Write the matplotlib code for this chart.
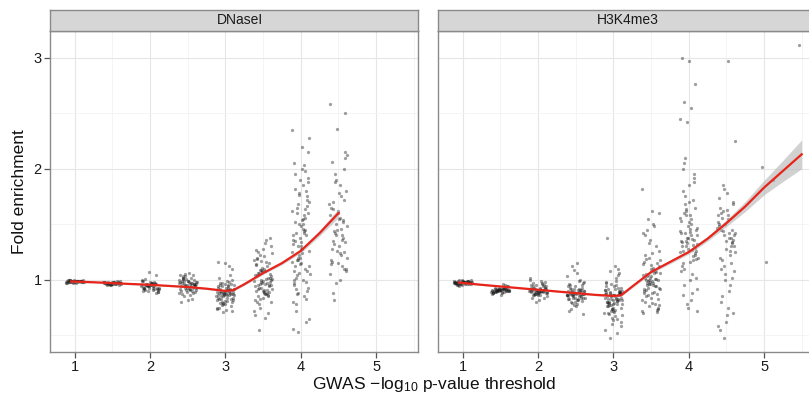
import numpy as np
import matplotlib
matplotlib.use("Agg")
import matplotlib.pyplot as plt

plt.rcParams['font.family'] = ['Liberation Sans', 'DejaVu Sans']
plt.rcParams['mathtext.fontset'] = 'custom'
plt.rcParams['mathtext.rm'] = 'Liberation Sans'
plt.rcParams['mathtext.it'] = 'Liberation Sans:italic'

thresholds = [1, 1.5, 2, 2.5, 3, 3.5, 4, 4.5, 5, 5.5]

# fold enrichment values per threshold, DNaseI
dnase = {
    1: [0.99,0.98,0.99,1.00,0.98,0.99,0.97,0.99,0.98,1.00,0.99,0.98,0.99,0.98,0.97,0.99,1.00,0.98,0.99,0.98,
        0.99,0.99,0.98,0.97,1.00,0.99,0.98,0.99,0.98,0.99,0.99,0.98,1.00,0.99,0.97,0.98,0.99,0.98,0.99,1.00],
    1.5: [0.97,0.96,0.98,0.97,0.95,0.97,0.98,0.96,0.97,0.99,0.96,0.97,0.98,0.95,0.97,0.96,0.98,0.97,0.96,0.97,
          0.99,0.96,0.97,0.98,0.95,0.97,0.96,0.98,0.97,0.96,0.97,0.98,0.96,0.97,0.95,0.98,0.97,0.96,0.97,0.98],
    2: [0.95,0.93,0.97,0.91,0.96,0.94,0.99,0.92,0.95,0.89,0.97,0.93,0.96,0.94,1.00,0.91,0.95,0.93,0.98,0.90,
        0.94,0.96,0.92,0.97,0.95,0.88,0.93,0.99,0.94,0.96,0.91,0.95,0.93,0.97,0.90,0.94,0.96,1.01,0.92,0.95,
        0.93,0.98,0.94,0.89,0.96,0.92,1.04,1.07,0.95,0.93],
    2.5: [0.95,0.98,0.92,1.02,0.96,0.89,1.04,0.94,0.99,0.91,1.06,0.97,0.93,1.01,0.88,0.96,1.03,0.94,0.99,0.90,
          0.97,1.05,0.93,0.98,0.87,1.00,0.95,0.92,1.02,0.96,0.89,0.99,0.94,1.04,0.91,0.97,0.86,1.01,0.95,0.93,
          0.98,0.90,1.03,0.96,0.92,0.99,0.88,0.94,1.00,0.97,0.85,0.95,0.82,0.80,0.83,0.93,0.98,0.91,1.02,0.96],
    3: [0.88,0.92,0.84,0.95,0.80,0.90,0.86,0.98,0.77,0.89,0.93,0.83,0.96,0.87,0.74,0.91,0.85,1.00,0.81,0.94,
        0.88,0.79,0.92,0.86,0.97,0.83,0.90,0.75,0.89,0.94,0.82,0.87,1.02,0.91,0.78,0.85,0.93,0.88,0.72,0.96,
        0.84,0.90,0.80,0.87,0.99,0.92,0.76,0.86,0.89,0.94,0.83,0.91,0.73,0.88,1.04,0.85,0.95,0.81,0.90,0.87,
        0.78,0.93,0.86,0.97,0.84,0.89,0.75,0.92,0.88,0.82,0.95,0.90,1.10,1.15,1.16,1.12,0.71,0.86,0.91,0.79],
    3.5: [1.00,0.92,1.08,0.85,1.15,0.97,1.04,0.88,1.22,0.95,1.10,0.80,1.02,0.93,1.18,0.87,1.06,0.98,1.28,0.90,
          1.12,0.83,1.01,0.96,1.25,0.89,1.07,0.94,1.16,0.78,1.03,0.91,1.20,0.86,1.09,0.99,1.33,0.92,1.05,0.84,
          1.13,0.97,0.75,1.00,0.88,1.19,0.95,1.08,0.82,1.36,0.93,1.02,0.90,1.14,0.70,0.98,1.24,0.87,1.06,0.94,
          1.11,0.68,1.01,0.96,1.30,0.89,1.04,0.85,1.17,0.72,0.66,0.55,1.38,0.99,1.27,0.91,1.09,0.80,1.21,0.95],
    4: [1.30,1.05,1.55,0.92,1.75,1.20,1.40,0.85,1.65,1.12,2.00,1.35,0.98,1.50,1.25,1.85,1.02,1.60,1.15,2.05,
        1.45,0.88,1.70,1.28,1.95,1.08,1.38,0.80,1.58,1.18,2.15,1.48,0.95,1.80,1.22,1.62,1.00,1.42,0.90,1.90,
        1.32,1.10,1.68,1.26,2.20,1.52,0.83,1.78,1.16,1.44,1.04,1.88,1.34,0.97,1.56,1.20,2.28,1.46,0.78,1.72,
        1.14,1.36,2.03,1.60,0.93,1.24,1.82,1.40,1.06,2.35,1.50,0.72,1.66,1.30,1.00,1.98,1.18,0.65,1.54,1.12,
        0.62,1.76,0.56,1.42,0.87,1.92,1.28,1.08,1.64,0.53],
    4.5: [1.50,1.20,1.85,1.35,2.10,1.15,1.65,1.40,1.95,1.10,1.55,1.28,2.00,1.45,1.05,1.75,1.32,2.15,1.60,1.18,
          1.38,1.90,1.48,1.00,1.70,1.25,2.36,1.58,1.12,1.42,1.80,1.30,2.06,1.52,0.97,1.68,1.22,1.44,2.50,1.62,
          1.14,1.36,1.88,1.08,1.56,0.88,1.72,1.26,2.58,1.46,0.82,1.34,1.78,1.16,1.54,1.40,2.12,1.24,1.64,1.10],
}

# fold enrichment values per threshold, H3K4me3
h3k4 = {
    1: [0.97,0.98,0.96,0.99,0.97,0.95,0.98,0.97,1.00,0.96,0.98,0.97,0.99,0.96,0.97,0.98,0.95,0.97,0.99,0.98,
        0.96,0.97,1.00,0.98,0.97,0.96,0.99,0.97,0.98,0.94,0.97,0.98,0.96,0.99,0.97,0.98,0.97,0.96,0.98,1.00,
        0.97,0.99,0.96,0.98,0.97,0.95,0.98,0.97,0.99,0.97],
    1.5: [0.91,0.90,0.92,0.89,0.93,0.91,0.88,0.92,0.90,0.94,0.91,0.89,0.92,0.90,0.87,0.93,0.91,0.90,0.92,0.89,
          0.95,0.91,0.90,0.88,0.92,0.91,0.93,0.90,0.89,0.92,0.91,0.86,0.90,0.93,0.91,0.89,0.92,0.90,0.94,0.91,
          0.88,0.92,0.90,0.91,0.89,0.93,0.90,0.92,0.91,0.96],
    2: [0.90,0.88,0.93,0.86,0.95,0.91,0.89,0.97,0.87,0.92,0.90,0.84,0.94,0.89,0.91,0.99,0.86,0.93,0.88,0.90,
        0.96,0.92,0.85,0.89,0.94,0.91,0.87,1.00,0.90,0.93,0.88,0.82,0.92,0.89,0.95,0.90,0.86,0.91,0.98,0.88,
        0.93,0.90,0.87,0.94,0.89,0.92,0.84,0.91,1.02,0.90,0.88,0.93,0.86,0.95,0.91,0.80,0.89,0.92,0.97,0.90],
    2.5: [0.87,0.84,0.91,0.80,0.95,0.88,0.83,0.99,0.86,0.90,0.78,0.93,0.85,0.89,1.03,0.82,0.92,0.87,0.76,0.96,
          0.86,0.84,0.90,1.06,0.88,0.81,0.94,0.85,0.89,0.79,0.97,0.87,0.83,0.91,1.09,0.86,0.88,0.74,0.93,0.84,
          0.90,1.00,0.85,0.87,0.82,0.95,0.89,0.77,0.86,0.92,1.12,0.84,0.88,0.72,0.91,0.86,0.98,0.83,0.89,0.87,
          0.80,0.94,0.85,0.90,0.69,1.15,0.87,0.84,0.92,0.86],
    3: [0.85,0.78,0.92,0.70,0.88,0.82,0.98,0.65,0.86,0.75,0.94,0.80,0.89,0.60,0.84,1.02,0.77,0.90,0.72,0.87,
        0.83,0.96,0.68,0.85,0.79,1.06,0.74,0.91,0.81,0.88,0.58,0.86,0.76,0.93,0.83,0.70,0.99,0.80,0.87,0.64,
        0.89,0.78,1.08,0.84,0.73,0.92,0.82,0.86,0.55,0.95,0.79,0.88,0.71,0.85,1.04,0.77,0.90,0.67,0.83,0.87,
        0.75,0.97,0.81,0.89,0.62,0.86,0.80,1.10,0.74,0.91,0.84,0.69,0.88,0.78,0.94,0.52,0.85,0.82,1.12,0.76,
        0.90,0.66,0.87,0.83,0.48,0.93,0.79,1.38,0.86,0.72],
    3.5: [1.00,0.92,1.08,0.85,1.15,0.96,1.04,0.78,0.99,1.12,0.88,1.02,0.94,1.20,0.82,1.06,0.97,0.75,1.10,0.90,
          1.01,0.86,1.18,0.95,1.05,0.73,0.98,1.14,0.89,1.03,0.93,1.24,0.80,1.07,0.96,0.72,1.11,0.91,1.00,0.84,
          1.16,0.94,1.04,0.77,0.99,1.22,0.87,1.02,0.70,1.09,0.95,0.83,1.13,0.92,1.01,0.76,1.06,0.97,1.19,0.71,
          1.36,1.42,1.48,1.55,1.60,1.62,1.40,1.30,1.33,1.82,1.50,1.45,0.74,1.03,0.88,1.08,0.93,1.26,0.79,1.00],
    4: [1.35,1.20,1.50,1.10,1.65,1.28,1.42,1.05,1.75,1.32,1.58,1.15,1.88,1.38,1.25,1.55,0.95,1.45,1.70,1.30,
        1.18,1.62,1.40,1.00,1.80,1.22,1.48,1.35,0.88,1.68,1.26,1.52,1.12,1.95,1.33,1.44,0.82,1.60,1.24,1.38,
        1.08,1.72,1.30,1.47,1.16,2.00,1.36,0.78,1.56,1.27,1.42,1.02,1.85,1.34,1.21,1.64,0.92,1.40,2.05,1.29,
        0.75,1.53,1.37,2.10,1.19,1.46,0.86,1.92,2.42,2.45,2.55,2.60,2.76,2.97,3.00,1.31,1.58,0.72,1.43,1.26],
    4.5: [1.40,1.25,1.55,1.10,1.70,1.35,1.48,0.95,1.62,1.30,1.78,1.20,1.45,1.05,1.58,1.38,0.85,1.68,1.28,1.50,
          1.15,1.82,1.42,0.75,1.60,1.33,1.00,1.52,1.22,1.85,1.40,0.68,1.65,1.30,1.12,1.47,0.90,1.56,1.36,0.62,
          1.74,1.26,1.44,1.08,1.58,0.80,1.34,1.50,0.58,1.42,1.18,0.70,1.63,0.55,1.38,0.48,2.25,2.97,1.45,1.02],
    5: [2.02, 1.90, 1.16],
    5.5: [3.11],
}

# loess fit (y and half-width of the band)
dnase_fit_x = [0.95, 1.25, 1.5, 1.75, 2, 2.25, 2.5, 2.75, 3, 3.1, 3.25, 3.5, 3.75, 4, 4.25, 4.5]
dnase_fit_y = [0.985, 0.978, 0.97, 0.962, 0.955, 0.945, 0.935, 0.92, 0.90, 0.905, 0.96, 1.06, 1.15, 1.26, 1.42, 1.60]
dnase_fit_se = [0.01, 0.006, 0.006, 0.006, 0.006, 0.006, 0.007, 0.008, 0.01, 0.01, 0.011, 0.012, 0.014, 0.018, 0.025, 0.04]

h3k4_fit_x = [0.95, 1.25, 1.5, 1.75, 2, 2.25, 2.5, 2.75, 3, 3.1, 3.25, 3.5, 3.75, 4, 4.25, 4.5, 4.75, 5, 5.25, 5.5]
h3k4_fit_y = [0.975, 0.955, 0.94, 0.925, 0.91, 0.895, 0.88, 0.865, 0.855, 0.86, 0.94, 1.07, 1.16, 1.25, 1.37,
              1.51, 1.66, 1.83, 1.98, 2.13]
h3k4_fit_se = [0.01, 0.006, 0.006, 0.006, 0.006, 0.006, 0.007, 0.008, 0.012, 0.012, 0.013, 0.014, 0.016, 0.018,
               0.022, 0.03, 0.045, 0.065, 0.095, 0.13]

W, H = 809, 401
fig = plt.figure(figsize=(W / 100, H / 100), dpi=100)

px_per_unit = 75.3
x0 = 0.67
# name, data, fit x, fit y, band, panel left px, panel width px, strip label centre px
panels = [
    ("DNaseI", dnase, dnase_fit_x, dnase_fit_y, dnase_fit_se, 50, 368, 240),
    ("H3K4me3", h3k4, h3k4_fit_x, h3k4_fit_y, h3k4_fit_se, 438, 380, 628),
]
top, bottom = 31, 352
strip_top = 10

for k, (name, groups, fx, fy, fse, left, width, label_c) in enumerate(panels):
    ax = fig.add_axes([left / W, (H - bottom) / H, width / W, (bottom - top) / H])
    ax.set_xlim(x0, x0 + width / px_per_unit)
    ax.set_ylim(0.35, 3.24)
    ax.set_xticks([1, 2, 3, 4, 5])
    ax.set_xticks([1.5, 2.5, 3.5, 4.5, 5.5], minor=True)
    ax.set_yticks([1, 2, 3])
    ax.set_yticks([0.5, 1.5, 2.5], minor=True)
    ax.grid(True, which='major', color='#e6e6e6', lw=0.8)
    ax.grid(True, which='minor', color='#f3f3f3', lw=0.6)
    ax.set_axisbelow(True)
    for s in ax.spines.values():
        s.set_color('#8a8a8a')
        s.set_linewidth(1.0)
    ax.tick_params(which='minor', length=0)
    ax.tick_params(which='major', length=4, color='#555555', width=0.9,
                   labelsize=10.5, labelcolor='#1a1a1a', pad=2)
    if k == 1:
        ax.tick_params(axis='y', left=False, labelleft=False)

    # jittered points (deterministic spread across the jitter width)
    for t in thresholds:
        if t not in groups:
            continue
        vals = np.array(groups[t])
        n = len(vals)
        off = ((np.arange(n) * 0.6180339887 + 0.37) % 1.0 - 0.5) * 0.24
        ax.scatter(t + off, vals, s=5.5, color='#1a1a1a', alpha=0.42, linewidths=0, zorder=2)

    fx = np.array(fx); fy = np.array(fy); fse = np.array(fse)
    ax.fill_between(fx, fy - fse, fy + fse, color='#b3b3b3', alpha=0.6, lw=0, zorder=3)
    ax.plot(fx, fy, color='#e8231a', lw=1.6, zorder=4)

    sax = fig.add_axes([left / W, (H - top) / H, width / W, (top - strip_top) / H])
    sax.set_facecolor('#d6d6d6')
    sax.set_xticks([]); sax.set_yticks([])
    for s in sax.spines.values():
        s.set_color('#8a8a8a')
        s.set_linewidth(1.0)
    sax.text((label_c - left) / width, 0.5, name, transform=sax.transAxes, ha='center', va='center',
             fontsize=10, color='#1a1a1a')

fig.text(20 / W, 1 - 192 / H, "Fold enrichment", rotation=90, ha='center', va='center',
         fontsize=12.5, color='#111111')
fig.text(434 / W, 1 - 384 / H, r"GWAS $\mathregular{-log_{10}}$ p-value threshold", ha='center', va='center',
         fontsize=12.5, color='#111111')

fig.savefig("out.png", dpi=100)
